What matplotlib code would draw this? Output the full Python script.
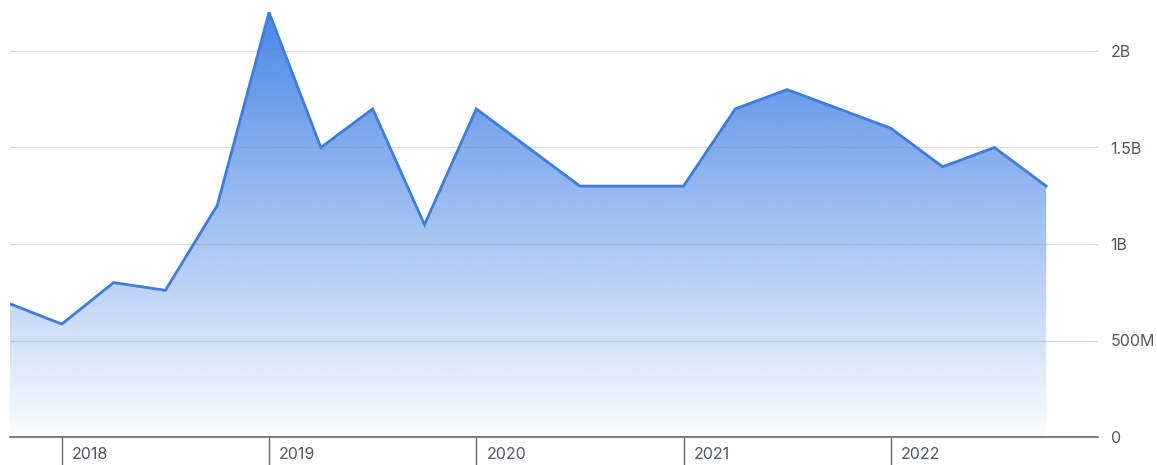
import matplotlib
matplotlib.use("Agg")
import matplotlib.pyplot as plt
import numpy as np
from matplotlib.transforms import blended_transform_factory, offset_copy

plt.rcParams['font.family'] = ['Inter', 'DejaVu Sans']

# Quarterly values, 2017 Q4 .. 2022 Q4 (in billions)
quarters = ["2017Q4",
            "2018Q1", "2018Q2", "2018Q3", "2018Q4",
            "2019Q1", "2019Q2", "2019Q3", "2019Q4",
            "2020Q1", "2020Q2", "2020Q3", "2020Q4",
            "2021Q1", "2021Q2", "2021Q3", "2021Q4",
            "2022Q1", "2022Q2", "2022Q3", "2022Q4"]
values_b = [0.69,
            0.585, 0.80, 0.76, 1.20,
            2.20, 1.50, 1.70, 1.10,
            1.70, 1.50, 1.30, 1.30,
            1.30, 1.70, 1.80, 1.70,
            1.60, 1.40, 1.50, 1.30]
year_labels = ["2018", "2019", "2020", "2021", "2022"]
ytick_vals = [0, 0.5e9, 1.0e9, 1.5e9, 2.0e9]
ytick_labels = ["0", "500M", "1B", "1.5B", "2B"]

values = np.array(values_b) * 1e9
x = np.arange(len(values))
year_pos = [quarters.index(y + "Q1") for y in year_labels]

W, H = 1157, 465
fig = plt.figure(figsize=(W / 100, H / 100), dpi=100)
left, right = 10 / W, 1098 / W
bottom = (H - 437) / H
ax = fig.add_axes([left, bottom, right - left, 437 / H])

ymax = 437 / 386 * 2.0e9
ax.set_xlim(0, len(values))
ax.set_ylim(0, ymax)

line_color = "#3b7de3"
# gradient fill
poly = ax.fill_between(x, values, 0, color="none", lw=0)
grad = np.linspace(0, 1, 256).reshape(-1, 1)
rgba = np.zeros((256, 1, 4))
rgba[..., 0] = 59 / 255
rgba[..., 1] = 125 / 255
rgba[..., 2] = 227 / 255
rgba[..., 3] = 0.02 + 0.93 * grad
im = ax.imshow(rgba, extent=[0, len(values), 0, ymax], origin="lower",
               aspect="auto", zorder=1, interpolation="bilinear")
path = poly.get_paths()[0]
im.set_clip_path(path, transform=ax.transData)

ax.plot(x, values, color=line_color, lw=2.0, zorder=3, solid_joinstyle="miter")

# gridlines
for v in ytick_vals[1:]:
    ax.axhline(v, color="#8a96a8", alpha=0.35, lw=1.0, zorder=2)
ax.axhline(0, color="#5d6675", lw=1.2, zorder=4, clip_on=False)

for s in ax.spines.values():
    s.set_visible(False)

ax.yaxis.tick_right()
ax.set_yticks(ytick_vals)
ax.set_yticklabels(ytick_labels)
ax.tick_params(axis="y", length=0, pad=9, labelsize=11.5, labelcolor="#4f5866")

ax.set_xticks(year_pos)
ax.set_xticklabels([])
ax.tick_params(axis="x", length=28, width=1.0, color="#5d6675", direction="out")

trans = blended_transform_factory(ax.transData, ax.transAxes)
for p, lab in zip(year_pos, year_labels):
    t = offset_copy(trans, fig=fig, x=10, y=-17, units="dots")
    ax.text(p, 0, lab, transform=t, ha="left", va="center", fontsize=11.5,
            color="#4f5866", clip_on=False)

fig.savefig("out.png", dpi=100)
